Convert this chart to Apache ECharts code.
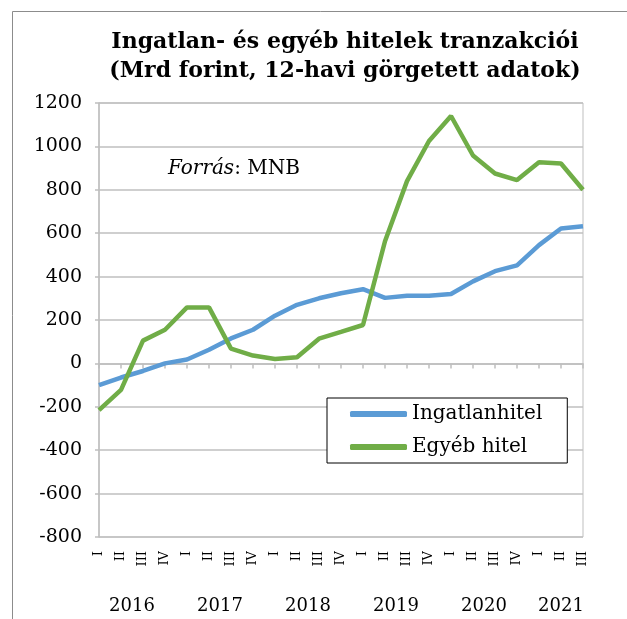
<!DOCTYPE html>
<html>
<head>
<meta charset="utf-8">
<script src="https://cdn.jsdelivr.net/npm/echarts@6/dist/echarts.min.js"></script>
<style>
html, body { margin: 0; padding: 0; background: #fff; }
#chart { width: 627px; height: 619px; }
</style>
</head>
<body>
<div id="chart"></div>
<script>
// negyedevek 2016 I - 2021 III
var quarters = ["I", "II", "III", "IV", "I", "II", "III", "IV", "I", "II", "III", "IV",
  "I", "II", "III", "IV", "I", "II", "III", "IV", "I", "II", "III"];
var ingatlanhitel = [-100, -65, -35, 0, 18, 63, 115, 155, 220, 270, 300, 323,
  342, 302, 312, 312, 320, 378, 425, 452, 545, 622, 632];
var egyebHitel = [-215, -122, 105, 155, 258, 258, 68, 36, 20, 28, 114, 145,
  177, 563, 840, 1025, 1140, 958, 875, 845, 927, 921, 800];
var yearLabels = ["2016", "2017", "2018", "2019", "2020", "2021"];
var yearPositions = [1.5, 5.5, 9.5, 13.5, 17.5, 21];

var serif = "'DejaVu Serif', serif";
var gray = "#bfbfbf";

var myChart = echarts.init(document.getElementById("chart"));

var option = {
  animation: false,
  backgroundColor: "#fff",
  title: {
    text: "Ingatlan- és egyéb hitelek tranzakciói\n(Mrd forint, 12-havi görgetett adatok)",
    left: 340,
    textAlign: "center",
    top: 23,
    textStyle: {
      fontFamily: serif,
      fontWeight: "bold",
      fontSize: 22,
      lineHeight: 29,
      color: "#000"
    }
  },
  graphic: [
    {
      type: "polyline",
      shape: { points: [[12.5, 700], [12.5, 11.5], [700, 11.5]] },
      style: { fill: null, stroke: "#8c8c8c", lineWidth: 1 },
      silent: true
    },
    {
      type: "text",
      left: 168,
      top: 159,
      style: {
        text: "{i|Forrás}: MNB",
        fontFamily: serif,
        fontSize: 20,
        fill: "#000",
        rich: { i: { fontFamily: serif, fontStyle: "italic", fontSize: 20 } }
      }
    }
  ],
  legend: {
    orient: "vertical",
    left: 327,
    top: 398,
    padding: [6, 25, 6, 23],
    itemGap: 13,
    itemWidth: 57,
    itemHeight: 6,
    icon: "roundRect",
    borderColor: "#000",
    borderWidth: 1,
    backgroundColor: "#fff",
    textStyle: { fontFamily: serif, fontSize: 20, color: "#000" },
    data: ["Ingatlanhitel", "Egyéb hitel"]
  },
  grid: {
    left: 99,
    right: 44,
    top: 103,
    bottom: 82,
    show: true,
    borderColor: gray,
    borderWidth: 1
  },
  xAxis: [
    {
      type: "category",
      boundaryGap: false,
      data: quarters,
      axisLine: { onZero: true, lineStyle: { color: gray, width: 1.5 } },
      axisTick: { show: true, length: 5, interval: 0, lineStyle: { color: gray, width: 1.5 } },
      axisLabel: { show: false },
      splitLine: { show: false }
    },
    {
      type: "category",
      position: "bottom",
      boundaryGap: false,
      data: quarters,
      axisLine: { show: false, onZero: false },
      axisTick: { show: false },
      axisLabel: {
        interval: 0,
        rotate: 90,
        margin: 14,
        fontFamily: serif,
        fontSize: 13,
        color: "#000"
      },
      splitLine: { show: false }
    },
    {
      type: "value",
      position: "bottom",
      min: 0,
      max: 22,
      interval: 0.5,
      axisLine: { show: false, onZero: false },
      axisTick: { show: false },
      splitLine: { show: false },
      axisLabel: {
        margin: 60,
        showMinLabel: true,
        showMaxLabel: true,
        fontFamily: serif,
        fontSize: 18,
        color: "#000",
        formatter: function (v) {
          var k = yearPositions.indexOf(v);
          return k >= 0 ? yearLabels[k] : "";
        }
      }
    }
  ],
  yAxis: {
    type: "value",
    min: -800,
    max: 1200,
    interval: 200,
    axisLine: { show: true, lineStyle: { color: gray, width: 1.5 } },
    axisTick: { show: true, length: 4, lineStyle: { color: gray, width: 1.5 } },
    axisLabel: {
      margin: 17,
      fontFamily: serif,
      fontSize: 19,
      color: "#000",
      formatter: function (v) { return String(v); }
    },
    splitLine: { lineStyle: { color: gray, width: 1.5 } }
  },
  series: [
    {
      name: "Ingatlanhitel",
      type: "line",
      xAxisIndex: 0,
      data: ingatlanhitel,
      symbol: "none",
      lineStyle: { color: "#5b9bd5", width: 4.5 },
      itemStyle: { color: "#5b9bd5" }
    },
    {
      name: "Egyéb hitel",
      type: "line",
      xAxisIndex: 0,
      data: egyebHitel,
      symbol: "none",
      lineStyle: { color: "#70ad47", width: 4.5 },
      itemStyle: { color: "#70ad47" }
    }
  ]
};

myChart.setOption(option);
</script>
</body>
</html>
